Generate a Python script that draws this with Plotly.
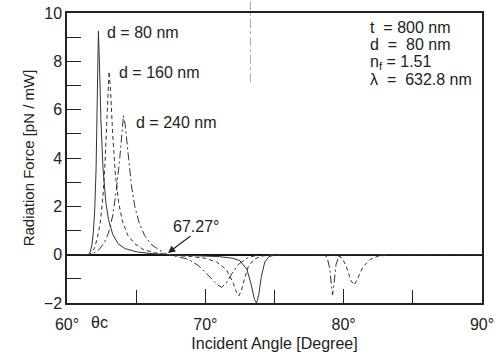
import plotly.graph_objects as go

# ---- data ----
angle_d80 = [60.0, 61.5, 61.65, 61.8, 61.9, 62.0, 62.1, 62.2, 62.27, 62.35, 62.45, 62.6, 62.8, 63.0,
             63.3, 63.7, 64.2, 65.0, 66.0, 67.27, 68.0, 70.0, 71.0, 72.0, 72.5, 73.0, 73.3, 73.55,
             73.7, 73.85, 74.05, 74.3, 74.6, 75.0, 76.0, 90.0]
force_d80 = [0, 0, 0.05, 0.4, 0.9, 1.8, 3.5, 6.5, 9.25, 7.8, 5.6, 3.6, 2.2, 1.45,
             0.85, 0.45, 0.25, 0.12, 0.05, 0, -0.02, -0.05, -0.08, -0.15, -0.25, -0.6, -1.2, -1.85,
             -2.0, -1.7, -0.9, -0.3, -0.08, -0.02, 0, 0]

angle_d160 = [60.0, 61.6, 61.8, 62.0, 62.2, 62.4, 62.6, 62.75, 62.9, 63.04, 63.15, 63.3, 63.5, 63.75,
              64.0, 64.4, 64.9, 65.5, 66.3, 67.27, 68.0, 69.0, 70.0, 70.8, 71.5, 72.0, 72.25, 72.41,
              72.6, 72.85, 73.1, 73.5, 74.0, 74.5, 75.5, 78.0, 79.5, 79.9, 80.2, 80.5, 80.75, 81.0,
              81.4, 81.9, 82.5, 83.5, 90.0]
force_d160 = [0, 0, 0.08, 0.3, 0.7, 1.3, 2.4, 3.8, 5.8, 7.58, 6.8, 5.0, 3.3, 2.1,
              1.4, 0.8, 0.45, 0.22, 0.08, 0, -0.04, -0.08, -0.15, -0.3, -0.6, -1.15, -1.55, -1.71,
              -1.5, -0.95, -0.5, -0.2, -0.07, -0.02, 0, 0, -0.02, -0.15, -0.5, -1.05, -1.25, -1.0,
              -0.5, -0.2, -0.06, 0, 0]

angle_d240 = [60.0, 61.6, 61.9, 62.3, 62.7, 63.0, 63.3, 63.55, 63.8, 63.95, 64.08, 64.2, 64.4, 64.65,
              64.9, 65.2, 65.6, 66.1, 66.7, 67.27, 68.0, 68.8, 69.5, 70.2, 70.8, 71.16, 71.5, 71.9,
              72.4, 73.0, 73.6, 74.5, 78.5, 78.8, 79.0, 79.12, 79.2, 79.3, 79.45, 79.65, 80.0, 90.0]
force_d240 = [0, 0, 0.05, 0.2, 0.5, 0.9, 1.6, 2.6, 3.9, 5.0, 5.75, 5.4, 4.2, 2.9,
              2.0, 1.35, 0.8, 0.42, 0.18, 0, -0.08, -0.2, -0.45, -0.85, -1.2, -1.35, -1.2, -0.8,
              -0.4, -0.15, -0.04, 0, 0, -0.1, -0.6, -1.3, -1.67, -1.2, -0.4, -0.08, 0, 0]

x_tick_vals = [60, 70, 80, 90]
x_tick_text = ["60°", "70°", "80°", "90°"]
curve_labels = ["d = 80 nm", "d = 160 nm", "d = 240 nm"]
param_lines = ["t&nbsp;&nbsp;= 800 nm", "d&nbsp;&nbsp;=&nbsp;&nbsp;80 nm",
               "n<sub>f</sub> = 1.51", "λ&nbsp;&nbsp;=&nbsp;&nbsp;632.8 nm"]

INK = "#222222"
LINE = "#333333"
FONT = "Liberation Sans, Arial, Helvetica, sans-serif"

fig = go.Figure()
fig.add_trace(go.Scatter(x=angle_d80, y=force_d80, mode="lines",
                         line=dict(color=LINE, width=1.0), showlegend=False))
fig.add_trace(go.Scatter(x=angle_d160, y=force_d160, mode="lines",
                         line=dict(color=LINE, width=1.0, dash="4px,3px"), showlegend=False))
fig.add_trace(go.Scatter(x=angle_d240, y=force_d240, mode="lines",
                         line=dict(color=LINE, width=1.0, dash="8px,3px,2px,3px"), showlegend=False))

annotations = []
# curve labels
for txt, (xa, ya) in zip(curve_labels, [(62.75, 9.21), (63.62, 7.52), (64.84, 5.45)]):
    annotations.append(dict(x=xa, y=ya, text=txt, showarrow=False, xanchor="left",
                            yanchor="middle", font=dict(size=16, color=INK, family=FONT)))
# parameter block
for txt, ya in zip(param_lines, [9.42, 8.68, 7.97, 7.23]):
    annotations.append(dict(x=81.76, y=ya, text=txt, showarrow=False, xanchor="left",
                            yanchor="middle", font=dict(size=16, color=INK, family=FONT)))
# 67.27° label and arrow
annotations.append(dict(x=69.36, y=1.15, text="67.27°", showarrow=False, xanchor="center",
                        yanchor="middle", font=dict(size=16, color=INK, family=FONT)))
annotations.append(dict(x=67.3, y=0.07, ax=69.04, ay=0.82, axref="x", ayref="y", text="",
                        showarrow=True, arrowhead=2, arrowsize=1.2, arrowwidth=1.2,
                        arrowcolor=INK))
# theta_c label under the axis
annotations.append(dict(x=62.35, y=(303 - 322) / 290, yref="paper", text="θc", showarrow=False,
                        xanchor="center", yanchor="middle",
                        font=dict(size=16, color=INK, family=FONT)))

fig.update_layout(
    width=499, height=356,
    margin=dict(l=67, r=17, t=13, b=53, autoexpand=False),
    paper_bgcolor="white", plot_bgcolor="white",
    font=dict(family=FONT, size=16, color=INK),
    annotations=annotations,
    shapes=[dict(type="line", xref="x", yref="paper", x0=73.26, x1=73.26, y0=0.762, y1=1.045,
                 line=dict(color="#aaaaaa", width=1, dash="dashdot"))],
    xaxis=dict(range=[60, 90], tickvals=x_tick_vals, ticktext=x_tick_text,
               ticks="inside", ticklen=14, tickcolor=INK, tickwidth=1.2,
               minor=dict(dtick=5, tick0=60, ticks="inside", ticklen=13, tickcolor=INK, tickwidth=1.2),
               showline=True, mirror=True, linecolor=INK, linewidth=1.5,
               showgrid=False, zeroline=False, ticklabelstandoff=6, automargin=False,
               title=dict(text="Incident Angle [Degree]", font=dict(size=16), standoff=6)),
    yaxis=dict(range=[-2, 10], dtick=2, tick0=0,
               ticks="inside", ticklen=14, tickcolor=INK, tickwidth=1.2,
               minor=dict(dtick=1, ticks="inside", ticklen=14, tickcolor=INK, tickwidth=1.2),
               showline=True, mirror=True, linecolor=INK, linewidth=1.5,
               showgrid=False, zeroline=True, zerolinecolor="#111111", zerolinewidth=1.6,
               automargin=False,
               title=dict(text="Radiation Force [pN / mW]", font=dict(size=15), standoff=6)),
)

fig.write_html("out.html", config={"displayModeBar": False},
               post_script="document.body.style.margin='0px';")
